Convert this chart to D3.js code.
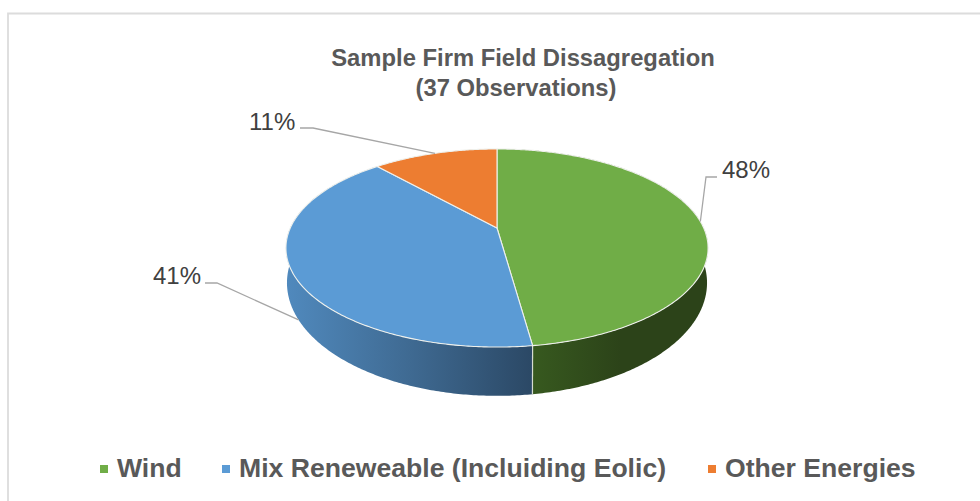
<!DOCTYPE html>
<html>
<head>
<meta charset="utf-8">
<script src="https://cdn.jsdelivr.net/npm/d3@7"></script>
<style>
body { margin: 0; background: #fff; }
text { font-family: "Liberation Sans", Arial, sans-serif; }
</style>
</head>
<body>
<div id="chart"></div>
<script>
const categories = ["Wind", "Mix Reneweable (Incluiding Eolic)", "Other Energies"];
// slice shares, the labels are what the chart prints
const shares = [47.8, 40.6, 11.6];
const shareLabels = ["48%", "41%", "11%"];
const titleLines = ["Sample Firm Field Dissagregation", "(37 Observations)"];
const colors = ["#70ad47", "#5b9bd5", "#ed7d31"];

const width = 980, height = 501;

const svg = d3.select("#chart").append("svg")
    .attr("width", width)
    .attr("height", height)
    .style("display", "block");

// chart frame, open on the right and the bottom
svg.append("path")
    .attr("d", `M8,${height} V13.5 H${width}`)
    .attr("fill", "none")
    .attr("stroke", "#dcdcdc")
    .attr("stroke-width", 1.8);

// ----------------------------
// TITLE
// ----------------------------
const titleX = [523, 516];
svg.selectAll(".title")
    .data(titleLines)
    .enter()
    .append("text")
    .attr("class", "title")
    .attr("x", (d, i) => titleX[i])
    .attr("y", (d, i) => 66 + i * 30)
    .attr("text-anchor", "middle")
    .attr("font-size", 23.8)
    .attr("font-weight", "bold")
    .attr("fill", "#595959")
    .text(d => d);

// ----------------------------
// PIE, tilted disc with perspective
// ----------------------------
const cx = 497, tilt = -0.202;
const faces = {
    top: { y0: 228, depth: 95, across: 206.7 },
    bottom: { y0: 260, depth: 108.4, across: 205.7 }
};

const pie = d3.pie().sort(null).value(d => d);
const arcs = pie(shares);

function project(angle, level) {
    const f = faces[level];
    const u = Math.sin(angle), v = -Math.cos(angle);
    const w = 1 + tilt * v;
    return [cx + f.across * u / w, f.y0 + f.depth * v / w];
}

function rim(a0, a1, level) {
    const n = Math.max(2, Math.ceil((a1 - a0) / 0.01));
    return d3.range(n + 1).map(i => project(a0 + (a1 - a0) * i / n, level));
}

const line = d3.line();

const defs = svg.append("defs");
const wallStops = [["#2c4319", "#2c4319", "#37591f"], ["#5089bd", "#3f6a92", "#2b4865"]];
const wallSpan = [[533, 708], [287, 533]];
wallStops.forEach((stops, i) => {
    const g = defs.append("linearGradient")
        .attr("id", "wall" + i)
        .attr("gradientUnits", "userSpaceOnUse")
        .attr("x1", wallSpan[i][0]).attr("x2", wallSpan[i][1])
        .attr("y1", 0).attr("y2", 0);
    (i === 0 ? stops.slice().reverse() : stops)
        .forEach((c, j) => g.append("stop").attr("offset", j / 2).attr("stop-color", c));
});

// walls first, the top face covers the part at the back
svg.selectAll(".wall")
    .data(arcs.slice(0, 2))
    .enter()
    .append("path")
    .attr("class", "wall")
    .attr("fill", (d, i) => `url(#wall${i})`)
    .attr("d", d => {
        const top = rim(d.startAngle, d.endAngle, "top");
        const bottom = rim(d.startAngle, d.endAngle, "bottom").reverse();
        return line(top.concat(bottom)) + "Z";
    });

// seam between the two visible walls
svg.append("path")
    .attr("fill", "none")
    .attr("stroke", "#d6dcd2")
    .attr("stroke-width", 1.2)
    .attr("d", line([project(arcs[0].endAngle, "top"), project(arcs[0].endAngle, "bottom")]));

svg.selectAll(".slice")
    .data(arcs)
    .enter()
    .append("path")
    .attr("class", "slice")
    .attr("fill", (d, i) => colors[i])
    .attr("stroke", "#eef0ec")
    .attr("stroke-width", 1.1)
    .attr("stroke-linejoin", "round")
    .attr("d", d => line([[cx, faces.top.y0]].concat(rim(d.startAngle, d.endAngle, "top"))) + "Z");

// ----------------------------
// LABELS AND LEADER LINES
// ----------------------------
const labelSpots = [
    { level: "top", shift: 0, elbow: [706, 177], end: [717, 177], x: 722, y: 178 },
    { level: "bottom", shift: -0.087, elbow: [217, 283], end: [205, 283], x: 153, y: 284 },
    { level: "top", shift: 0, elbow: [313, 128], end: [300, 128], x: 249, y: 130 }
];

arcs.forEach((d, i) => {
    const spot = labelSpots[i];
    const mid = (d.startAngle + d.endAngle) / 2 + spot.shift;
    svg.append("path")
        .attr("fill", "none")
        .attr("stroke", "#a6a6a6")
        .attr("stroke-width", 1.3)
        .attr("d", line([project(mid, spot.level), spot.elbow, spot.end]));
    svg.append("text")
        .attr("x", spot.x)
        .attr("y", spot.y)
        .attr("font-size", 24)
        .attr("fill", "#404040")
        .text(shareLabels[i]);
});

// ----------------------------
// LEGEND
// ----------------------------
const legendX = [100, 222, 708];
const legend = svg.selectAll(".legend")
    .data(categories)
    .enter()
    .append("g")
    .attr("class", "legend")
    .attr("transform", (d, i) => `translate(${legendX[i]},0)`);

legend.append("rect")
    .attr("y", 465)
    .attr("width", 8)
    .attr("height", 8)
    .attr("fill", (d, i) => colors[i]);

legend.append("text")
    .attr("x", 17)
    .attr("y", 477)
    .attr("font-size", 26.6)
    .attr("font-weight", "bold")
    .attr("fill", "#595959")
    .text(d => d);
</script>
</body>
</html>
